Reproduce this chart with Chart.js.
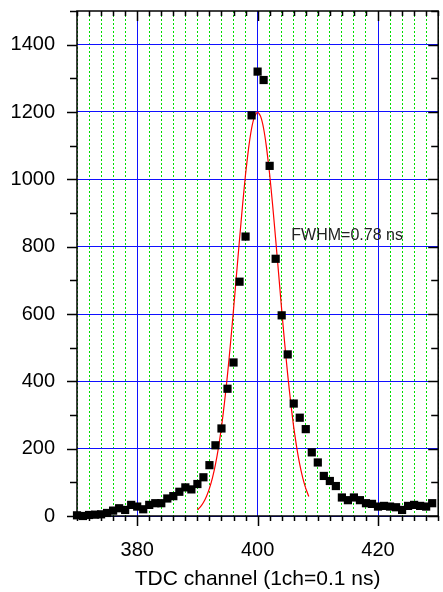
<!DOCTYPE html>
<html>
<head>
<meta charset="utf-8">
<script src="https://cdn.jsdelivr.net/npm/chart.js@4.4.1/dist/chart.umd.min.js"></script>
<style>
  body { margin: 0; overflow: hidden; background: #fff; }
  #wrap { position: relative; width: 444px; height: 592px; }
</style>
</head>
<body>
<div id="wrap"><canvas id="chart"></canvas></div>
<script>
// measured counts per TDC channel
const channels = [
  370, 371, 372, 373, 374, 375, 376, 377, 378, 379,
  380, 381, 382, 383, 384, 385, 386, 387, 388, 389,
  390, 391, 392, 393, 394, 395, 396, 397, 398, 399,
  400, 401, 402, 403, 404, 405, 406, 407, 408, 409,
  410, 411, 412, 413, 414, 415, 416, 417, 418, 419,
  420, 421, 422, 423, 424, 425, 426, 427, 428, 429
];
const counts = [
  2, 0, 3, 4, 5, 9, 16, 23, 18, 33,
  28, 20, 33, 38, 38, 52, 59, 72, 85, 79,
  95, 115, 151, 210, 260, 378, 456, 696, 830, 1190,
  1320, 1295, 1040, 764, 596, 480, 334, 292, 258, 189,
  159, 119, 104, 89, 55, 47, 55, 47, 38, 36,
  28, 30, 28, 26, 18, 30, 33, 30, 28, 38
];

// gaussian fit curve
const fitX = [
  390, 390.5, 391, 391.5, 392, 392.5, 393, 393.5, 394, 394.5,
  395, 395.5, 396, 396.5, 397, 397.5, 398, 398.5, 399, 399.5,
  400, 400.5, 401, 401.5, 402, 402.5, 403, 403.5, 404, 404.5,
  405, 405.5, 406, 406.5, 407, 407.5, 408, 408.5
];
const fitY = [
  18, 27, 40, 58, 82, 113, 153, 203, 264, 337,
  420, 513, 613, 718, 822, 923, 1015, 1092, 1151, 1187,
  1200, 1187, 1151, 1092, 1015, 923, 822, 718, 613, 513,
  420, 337, 264, 203, 153, 113, 82, 58
];

// tick labels
const xTicks = [380, 400, 420];
const yTicks = [0, 200, 400, 600, 800, 1000, 1200, 1400];

const xMin = 370, xMax = 430;
const yMin = 0, yMax = 1500;
const xMinorStep = 2, yMinorStep = 100;

const fwhmText = "FWHM=0.78 ns";
const fwhmAt = { x: 405.6, y: 832 };

const FONT = "'Liberation Sans', Arial, Helvetica, sans-serif";
const BLUE = "#1010ff";
const GREEN = "#00dd00";

// frame + tick marks (long on labelled values, short in between)
const axisDecor = {
  id: "axisDecor",
  beforeDatasetsDraw(chart) {
    const { ctx, chartArea: a, scales: { x, y } } = chart;
    ctx.save();
    ctx.setLineDash([]);
    ctx.strokeStyle = "#000";
    ctx.lineWidth = 1.5;
    ctx.strokeRect(a.left, a.top, a.right - a.left, a.bottom - a.top);
    ctx.beginPath();
    for (let v = xMin; v <= xMax; v += xMinorStep) {
      const px = Math.round(x.getPixelForValue(v)) + 0.5;
      const len = xTicks.includes(v) ? 10 : 5;
      ctx.moveTo(px, a.bottom); ctx.lineTo(px, a.bottom + len);
      ctx.moveTo(px, a.top); ctx.lineTo(px, a.top + len);
    }
    for (let v = yMin; v <= yMax; v += yMinorStep) {
      const py = Math.round(y.getPixelForValue(v)) + 0.5;
      const len = yTicks.includes(v) ? 10 : 7;
      ctx.moveTo(a.left - len, py); ctx.lineTo(a.left, py);
      ctx.moveTo(a.right, py); ctx.lineTo(a.right - len, py);
    }
    ctx.stroke();
    ctx.restore();
  },
  afterDraw(chart) {
    const { ctx, scales: { x, y } } = chart;
    ctx.save();
    ctx.fillStyle = "#222";
    ctx.font = "16px " + FONT;
    ctx.textAlign = "left";
    ctx.textBaseline = "middle";
    ctx.fillText(fwhmText, x.getPixelForValue(fwhmAt.x), y.getPixelForValue(fwhmAt.y));
    ctx.restore();
  }
};

new Chart(document.getElementById("chart"), {
  type: "scatter",
  data: {
    datasets: [
      {
        label: "counts",
        data: channels.map((c, i) => ({ x: c, y: counts[i] })),
        pointStyle: "rect",
        pointRadius: 5.8,
        pointBorderWidth: 0,
        backgroundColor: "#000",
        showLine: false,
        clip: false
      },
      {
        label: "fit",
        data: fitX.map((c, i) => ({ x: c, y: fitY[i] })),
        showLine: true,
        borderColor: "#ff0000",
        borderWidth: 1.2,
        pointRadius: 0,
        tension: 0.2,
        clip: false
      }
    ]
  },
  options: {
    responsive: true,
    maintainAspectRatio: false,
    animation: false,
    layout: { padding: { top: 11 } },
    plugins: { legend: { display: false }, tooltip: { enabled: false } },
    scales: {
      // dotted green grid every 2 channels, drawn first
      xMinor: {
        type: "linear",
        position: "bottom",
        min: xMin,
        max: xMax,
        z: -1,
        afterFit: s => { s.height = 0; s.paddingLeft = 0; s.paddingRight = 0; },
        border: { display: false, dash: [2, 2] },
        grid: { drawTicks: false, lineWidth: 1, color: GREEN },
        ticks: { display: false, stepSize: xMinorStep, autoSkip: false }
      },
      x: {
        type: "linear",
        position: "bottom",
        min: xMin,
        max: xMax,
        afterBuildTicks: s => { s.ticks = xTicks.map(v => ({ value: v })); },
        afterFit: s => { s.height = 76; s.paddingLeft = 0; s.paddingRight = 0; },
        border: { display: false },
        grid: { drawTicks: false, lineWidth: 1, color: BLUE },
        ticks: {
          autoSkip: false,
          maxRotation: 0,
          padding: 22,
          color: "#000",
          font: { family: FONT, size: 20 },
          callback: v => String(v)
        },
        title: {
          display: true,
          text: "TDC channel (1ch=0.1 ns)",
          color: "#000",
          font: { family: FONT, size: 21 },
          padding: { top: 0, bottom: 0 }
        }
      },
      y: {
        type: "linear",
        min: yMin,
        max: yMax,
        afterBuildTicks: s => { s.ticks = yTicks.map(v => ({ value: v })); },
        afterFit: s => { s.width = 77; s.paddingTop = 0; s.paddingBottom = 0; },
        border: { display: false },
        grid: { drawTicks: false, lineWidth: 1, color: BLUE },
        ticks: {
          padding: 22,
          color: "#000",
          font: { family: FONT, size: 20 },
          callback: v => String(v)
        }
      }
    }
  },
  plugins: [axisDecor]
});
</script>
</body>
</html>
